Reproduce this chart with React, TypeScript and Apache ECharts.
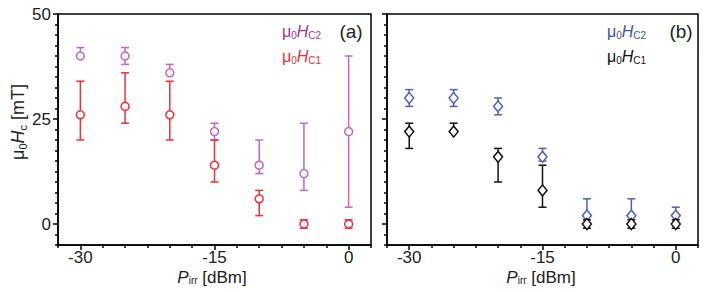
import React, { useEffect, useRef } from "react";
import * as echarts from "echarts";

// x positions (P_irr, dBm)
const xValues = [-30, -25, -20, -15, -10, -5, 0];

// Panel (a)
const aHc2 = [40, 40, 36, 22, 14, 12, 22];
const aHc2Low = [40, 38, 36, 20, 12, 8, 4];
const aHc2High = [42, 42, 38, 24, 20, 24, 40];
const aHc1 = [26, 28, 26, 14, 6, 0, 0];
const aHc1Low = [20, 24, 20, 10, 2, -1, -1];
const aHc1High = [34, 36, 34, 20, 8, 1, 1];

// Panel (b)
const bHc2 = [30, 30, 28, 16, 2, 2, 2];
const bHc2Low = [28, 28, 26, 15, 0, 0, 0];
const bHc2High = [32, 32, 30, 18, 6, 6, 4];
const bHc1 = [22, 22, 16, 8, 0, 0, 0];
const bHc1Low = [18, 22, 10, 4, -1, -1, -1];
const bHc1High = [24, 24, 18, 14, 1, 1, 1];

// ticks
const xMajorTicks = [-30, -15, 0];
const xMinorTicks = [-32.5, -27.5, -25, -22.5, -20, -17.5, -12.5, -10, -7.5, -5, -2.5, 2.5];
const yMajorTicks = [0, 25, 50];
const yMinorTicks = [-5, -2.5, 2.5, 5, 7.5, 10, 12.5, 15, 17.5, 20, 22.5, 27.5, 30, 32.5, 35, 37.5, 40, 42.5, 45, 47.5];

const FONT = "'Liberation Sans', Arial, Helvetica, sans-serif";

const C_A2 = "#c466c0";
const C_A1 = "#ec3237";
const C_B2 = "#4d62b8";
const C_B1 = "#111111";

function errData(lo: number[], hi: number[]) {
  return xValues.map((x, i) => [x, lo[i], hi[i]]);
}
function ptData(v: number[]) {
  return xValues.map((x, i) => [x, v[i]]);
}

function errSeries(idx: number, lo: number[], hi: number[], color: string, z: number) {
  return {
    type: "custom",
    xAxisIndex: idx,
    yAxisIndex: idx,
    z,
    data: errData(lo, hi),
    encode: { x: 0, y: [1, 2] },
    renderItem: (params: any, api: any) => {
      const x = api.value(0);
      const pLo = api.coord([x, api.value(1)]);
      const pHi = api.coord([x, api.value(2)]);
      const w = 4;
      const style = { stroke: color, lineWidth: 1.5, fill: null };
      return {
        type: "group",
        children: [
          { type: "line", shape: { x1: pLo[0], y1: pLo[1], x2: pHi[0], y2: pHi[1] }, style },
          { type: "line", shape: { x1: pLo[0] - w, y1: pLo[1], x2: pLo[0] + w, y2: pLo[1] }, style },
          { type: "line", shape: { x1: pHi[0] - w, y1: pHi[1], x2: pHi[0] + w, y2: pHi[1] }, style },
        ],
      };
    },
  };
}

function ptSeries(idx: number, v: number[], color: string, symbol: string, size: any, z: number) {
  return {
    type: "scatter",
    xAxisIndex: idx,
    yAxisIndex: idx,
    z,
    data: ptData(v),
    symbol,
    symbolSize: size,
    itemStyle: { color: "#ffffff", borderColor: color, borderWidth: 1.5, opacity: 1 },
  };
}

const richStyles = (color: string, big: number, small: number, lh: number) => ({
  n: { fontSize: big, fontFamily: FONT, fill: color, color, lineHeight: lh },
  i: { fontSize: big, fontFamily: FONT, fontStyle: "italic", fill: color, color, lineHeight: lh },
  s: { fontSize: small, fontFamily: FONT, fill: color, color, lineHeight: small + 2, verticalAlign: "bottom" },
});

function legendText(x: number, y: number, sub: string, color: string) {
  return {
    type: "text",
    x,
    y,
    style: {
      text: `{n|μ}{s|0}{i|H}{s|${sub}}`,
      rich: richStyles(color, 16, 10, 18),
      align: "left",
      verticalAlign: "middle",
    },
  };
}

function makeXAxes(gridIndex: number) {
  return [
    {
      type: "value",
      gridIndex,
      position: "bottom",
      min: -32.5,
      max: 2.5,
      axisLine: { show: true, onZero: false, lineStyle: { color: "#000", width: 1.5 } },
      axisTick: { show: true, customValues: xMajorTicks, length: 5, lineStyle: { color: "#000", width: 1.5 } },
      axisLabel: {
        show: true,
        customValues: xMajorTicks,
        fontSize: 17,
        lineHeight: 15,
        fontFamily: FONT,
        color: "#222",
        margin: 5,
        formatter: (v: number) => String(v),
      },
      splitLine: { show: false },
    },
    {
      type: "value",
      gridIndex,
      position: "bottom",
      min: -32.5,
      max: 2.5,
      axisLine: { show: false, onZero: false },
      axisTick: { show: true, customValues: xMinorTicks, length: 3, lineStyle: { color: "#000", width: 1.5 } },
      axisLabel: { show: false },
      splitLine: { show: false },
    },
  ];
}

function makeYAxes(gridIndex: number, labels: boolean) {
  return [
    {
      type: "value",
      gridIndex,
      position: "left",
      min: -5,
      max: 50,
      axisLine: { show: true, onZero: false, lineStyle: { color: "#000", width: 1.5 } },
      axisTick: { show: true, customValues: yMajorTicks, length: 5, lineStyle: { color: "#000", width: 1.5 } },
      axisLabel: {
        show: labels,
        customValues: yMajorTicks,
        fontSize: 17,
        fontFamily: FONT,
        color: "#222",
        margin: 7,
      },
      splitLine: { show: false },
    },
    {
      type: "value",
      gridIndex,
      position: "left",
      min: -5,
      max: 50,
      axisLine: { show: false, onZero: false },
      axisTick: { show: true, customValues: yMinorTicks, length: 3, lineStyle: { color: "#000", width: 1.5 } },
      axisLabel: { show: false },
      splitLine: { show: false },
    },
  ];
}

export default function App() {
  const ref = useRef<HTMLDivElement>(null);
  useEffect(() => {
    if (!ref.current) return;
    const chart = echarts.init(ref.current, null, { renderer: "svg" });
    const xa = makeXAxes(0);
    const xb = makeXAxes(1);
    const ya = makeYAxes(0, true);
    const yb = makeYAxes(1, false);
    const option: any = {
      animation: false,
      backgroundColor: "#ffffff",
      grid: [
        { left: 58, top: 14, width: 313, height: 231, show: true, borderColor: "#000", borderWidth: 1.5, backgroundColor: "transparent" },
        { left: 387, top: 14, width: 311, height: 231, show: true, borderColor: "#000", borderWidth: 1.5, backgroundColor: "transparent" },
      ],
      // axis order: 0 = a major, 1 = b major, 2 = a minor, 3 = b minor
      xAxis: [xa[0], xb[0], xa[1], xb[1]],
      yAxis: [ya[0], yb[0], ya[1], yb[1]],
      series: [
        errSeries(0, aHc2Low, aHc2High, C_A2, 2),
        ptSeries(0, aHc2, C_A2, "circle", 8, 3),
        errSeries(0, aHc1Low, aHc1High, C_A1, 4),
        ptSeries(0, aHc1, C_A1, "circle", 8, 5),
        errSeries(1, bHc2Low, bHc2High, C_B2, 2),
        ptSeries(1, bHc2, C_B2, "diamond", [9, 11], 3),
        errSeries(1, bHc1Low, bHc1High, C_B1, 4),
        ptSeries(1, bHc1, C_B1, "diamond", [9, 11], 5),
      ],
      graphic: [
        legendText(282, 31, "C2", "#a3338f"),
        legendText(282, 56, "C1", "#e8303a"),
        legendText(607, 31, "C2", "#3f52a8"),
        legendText(607, 56, "C1", "#111111"),
        {
          type: "text",
          x: 351,
          y: 31,
          style: { text: "(a)", fontSize: 19, fontFamily: FONT, fill: "#222", align: "center", verticalAlign: "middle" },
        },
        {
          type: "text",
          x: 681,
          y: 31,
          style: { text: "(b)", fontSize: 19, fontFamily: FONT, fill: "#222", align: "center", verticalAlign: "middle" },
        },
        {
          type: "text",
          x: 18,
          y: 122,
          rotation: Math.PI / 2,
          style: {
            text: "{n|μ}{s|0}{i|H}{s|c}{n| [mT]}",
            rich: richStyles("#222", 18, 11, 20),
            align: "center",
            verticalAlign: "middle",
          },
        },
        {
          type: "text",
          x: 212,
          y: 277,
          style: {
            text: "{i|P}{s|irr}{n| [dBm]}",
            rich: richStyles("#222", 17, 10, 16),
            align: "center",
            verticalAlign: "middle",
          },
        },
        {
          type: "text",
          x: 541,
          y: 277,
          style: {
            text: "{i|P}{s|irr}{n| [dBm]}",
            rich: richStyles("#222", 17, 10, 16),
            align: "center",
            verticalAlign: "middle",
          },
        },
      ],
    };
    chart.setOption(option);
    return () => chart.dispose();
  }, []);
  return (
    <div
      ref={ref}
      style={{ position: "absolute", left: 0, top: 0, width: 706, height: 292, background: "#fff" }}
    />
  );
}
